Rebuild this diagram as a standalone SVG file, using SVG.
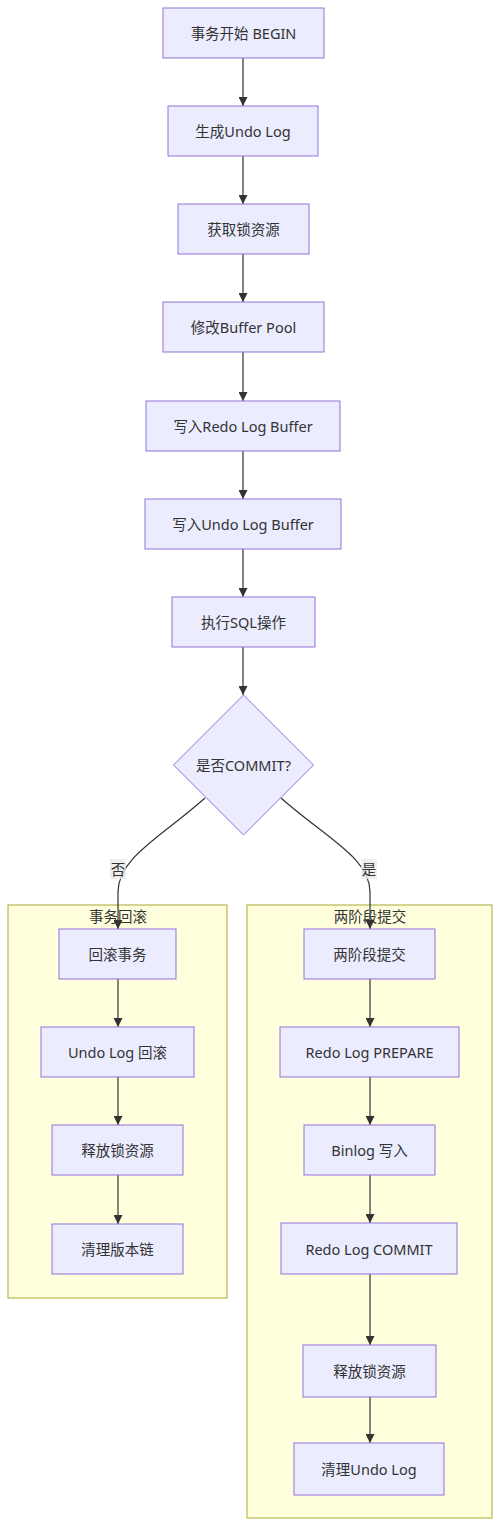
<svg xmlns="http://www.w3.org/2000/svg" width="500" height="1526" viewBox="0 0 500 1526">
<style>
.n rect,.n polygon{fill:#ECECFF;stroke:#9370DB;stroke-width:1}
.c rect{fill:#ffffde;stroke:#aaaa33;stroke-width:1}
text{font-family:"Noto Sans","Noto Sans CJK SC",sans-serif;font-size:14.5px;fill:#333;text-anchor:middle;dominant-baseline:central}
.e path{fill:none;stroke:#333;stroke-width:1.2}
.lb{fill:#e8e8e8;opacity:0.8}
</style>
<defs>
<marker id="ah" viewBox="0 0 10 10" refX="10" refY="5" markerUnits="userSpaceOnUse" markerWidth="9" markerHeight="9" orient="auto">
<path d="M0,0 L10,5 L0,10 z" fill="#333"/>
</marker>
</defs>
<rect width="500" height="1526" fill="#fff"/>
<g class="c" id="cluster-rollback"><rect x="8" y="905" width="219" height="393"/><text x="118" y="916">事务回滚</text></g>
<g class="c" id="cluster-2pc"><rect x="247" y="905" width="245" height="613"/><text x="370" y="916">两阶段提交</text></g>
<g class="e" id="edges">
<path d="M243,58 V106" marker-end="url(#ah)"/>
<path d="M243,156 V204" marker-end="url(#ah)"/>
<path d="M243,254 V302" marker-end="url(#ah)"/>
<path d="M243,352 V401" marker-end="url(#ah)"/>
<path d="M243,451 V499" marker-end="url(#ah)"/>
<path d="M243,549 V597" marker-end="url(#ah)"/>
<path d="M243,647 V695" marker-end="url(#ah)"/>
<path d="M205,798 C160,838 118,858 118,892 V929" marker-end="url(#ah)"/>
<path d="M281,798 C326,838 370,858 370,892 V929" marker-end="url(#ah)"/>
<path d="M118,979 V1027" marker-end="url(#ah)"/>
<path d="M118,1077 V1125" marker-end="url(#ah)"/>
<path d="M118,1175 V1224" marker-end="url(#ah)"/>
<path d="M370,979 V1027" marker-end="url(#ah)"/>
<path d="M370,1077 V1125" marker-end="url(#ah)"/>
<path d="M370,1175 V1223" marker-end="url(#ah)"/>
<path d="M370,1274 V1345" marker-end="url(#ah)"/>
<path d="M370,1397 V1443" marker-end="url(#ah)"/>
</g>
<g id="edge-labels">
<rect class="lb" x="110" y="859" width="16" height="20"/><text x="118" y="869">否</text>
<rect class="lb" x="361" y="859" width="16" height="20"/><text x="369" y="869">是</text>
</g>
<g class="n" id="begin"><rect x="163" y="8" width="161" height="50"/><text x="243.5" y="33">事务开始 BEGIN</text></g>
<g class="n" id="undo"><rect x="168" y="106" width="150" height="50"/><text x="243" y="131">生成Undo Log</text></g>
<g class="n" id="lock"><rect x="178" y="204" width="131" height="50"/><text x="243.5" y="229">获取锁资源</text></g>
<g class="n" id="bp"><rect x="163" y="302" width="161" height="50"/><text x="243.5" y="327">修改Buffer Pool</text></g>
<g class="n" id="redobuf"><rect x="146" y="401" width="194" height="50"/><text x="243" y="426">写入Redo Log Buffer</text></g>
<g class="n" id="undobuf"><rect x="145" y="499" width="196" height="50"/><text x="243" y="524">写入Undo Log Buffer</text></g>
<g class="n" id="sql"><rect x="172" y="597" width="143" height="50"/><text x="243.5" y="622">执行SQL操作</text></g>
<g class="n" id="commit"><polygon points="243.5,695 313.5,765 243.5,835 173.5,765"/><text x="243.5" y="765">是否COMMIT?</text></g>
<g class="n" id="rb1"><rect x="59" y="929" width="117" height="50"/><text x="117.5" y="954">回滚事务</text></g>
<g class="n" id="rb2"><rect x="41" y="1027" width="153" height="50"/><text x="117.5" y="1052">Undo Log 回滚</text></g>
<g class="n" id="rb3"><rect x="52" y="1125" width="131" height="50"/><text x="117.5" y="1150">释放锁资源</text></g>
<g class="n" id="rb4"><rect x="52" y="1224" width="131" height="50"/><text x="117.5" y="1249">清理版本链</text></g>
<g class="n" id="tp1"><rect x="304" y="929" width="131" height="50"/><text x="369.5" y="954">两阶段提交</text></g>
<g class="n" id="tp2"><rect x="280" y="1027" width="179" height="50"/><text x="369.5" y="1052">Redo Log PREPARE</text></g>
<g class="n" id="tp3"><rect x="304" y="1125" width="131" height="50"/><text x="369.5" y="1150">Binlog 写入</text></g>
<g class="n" id="tp4"><rect x="281" y="1223" width="176" height="51"/><text x="369" y="1249">Redo Log COMMIT</text></g>
<g class="n" id="tp5"><rect x="303" y="1345" width="133" height="52"/><text x="369.5" y="1371">释放锁资源</text></g>
<g class="n" id="tp6"><rect x="294" y="1443" width="150" height="52"/><text x="369" y="1469">清理Undo Log</text></g>
</svg>
